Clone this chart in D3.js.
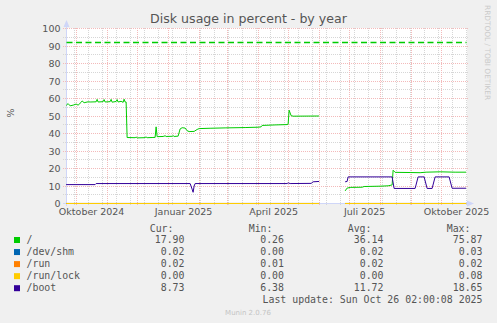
<!DOCTYPE html>
<html>
<head>
<meta charset="utf-8">
<script src="https://cdn.jsdelivr.net/npm/d3@7"></script>
<style>
body { margin: 0; background: #f0f0f0; }
svg { display: block; }
</style>
</head>
<body>
<div id="chart"></div>
<script>
// "/" filesystem
const rootDates = ["2024-09-21","2024-09-23","2024-09-25","2024-09-28","2024-10-01","2024-10-03","2024-10-06","2024-10-07","2024-10-09","2024-10-13","2024-10-15","2024-10-21","2024-10-22","2024-10-23","2024-10-28","2024-10-29","2024-10-30","2024-11-04","2024-11-05","2024-11-06","2024-11-10","2024-11-11","2024-11-12","2024-11-15","2024-11-17","2024-11-18","2024-11-19","2024-11-20","2024-11-21","2024-11-29","2024-11-30","2024-12-01","2024-12-08","2024-12-10","2024-12-11","2024-12-16","2024-12-19","2024-12-20","2024-12-21","2024-12-27","2024-12-29","2024-12-30","2025-01-05","2025-01-06","2025-01-07","2025-01-11","2025-01-13","2025-01-15","2025-01-18","2025-01-20","2025-01-22","2025-01-27","2025-01-30","2025-02-01","2025-02-12","2025-02-27","2025-03-19","2025-04-01","2025-04-04","2025-04-05","2025-04-18","2025-04-30","2025-05-01","2025-05-02","2025-05-04","2025-05-06","2025-06-01","2025-06-10","2025-06-27","2025-06-29","2025-07-02","2025-07-14","2025-07-16","2025-08-01","2025-08-09","2025-08-13","2025-08-14","2025-08-16","2025-08-31","2025-09-10","2025-09-16","2025-09-30","2025-10-15","2025-10-26"];
const rootValues = [56.0,57.1,55.8,56.2,56.8,56.2,57.8,58.6,57.6,58.1,58.0,58.1,59.5,58.0,58.2,59.4,58.0,58.2,59.5,57.9,58.3,59.4,58.0,58.4,57.8,59.6,58.0,58.0,37.7,37.6,38.0,37.5,37.6,38.0,37.6,37.7,37.8,43.8,38.2,38.3,38.7,38.3,38.4,38.8,38.3,38.5,42.6,43.3,43.1,41.6,41.1,41.2,42.3,42.8,43.0,43.2,43.4,43.6,43.8,44.6,44.9,45.1,45.3,53.3,50.2,49.9,50.0,null,7.2,8.8,9.2,9.3,9.7,9.9,10.1,10.6,19.0,17.8,17.7,17.6,17.9,18.1,17.9,17.9];

// "/boot"
const bootDates = ["2024-09-21","2024-10-20","2024-10-21","2025-01-23","2025-01-25","2025-01-26","2025-01-27","2025-01-28","2025-04-30","2025-05-01","2025-05-03","2025-05-24","2025-05-26","2025-06-01","2025-06-10","2025-06-27","2025-06-29","2025-06-30","2025-08-13","2025-08-15","2025-09-05","2025-09-08","2025-09-14","2025-09-17","2025-09-22","2025-09-25","2025-10-09","2025-10-12","2025-10-26"];
const bootValues = [10.8,10.8,11.4,11.4,8.2,6.4,10.0,11.4,11.4,11.8,11.4,11.5,12.4,12.6,null,12.4,12.6,15.2,15.2,8.6,8.6,15.2,15.2,8.6,8.6,15.2,15.2,8.7,8.73];

// the small ones, all near zero
const flatDates = ["2024-09-21","2025-06-01","2025-06-10","2025-06-27","2025-10-26"];
const shmValues = [0.02,0.02,null,0.02,0.02];
const runValues = [0.02,0.02,null,0.02,0.02];
const lockValues = [0.00,0.00,null,0.00,0.00];

const warningLevel = 92;

const legendNames = ["/", "/dev/shm", "/run", "/run/lock", "/boot"];
const legendColors = ["#00CC00", "#0066B3", "#FF8000", "#FFCC00", "#330099"];
const curValues = ["17.90", "0.02", "0.02", "0.00", "8.73"];
const minValues = ["0.26", "0.00", "0.01", "0.00", "6.38"];
const avgValues = ["36.14", "0.02", "0.02", "0.00", "11.72"];
const maxValues = ["75.87", "0.03", "0.02", "0.08", "18.65"];

const yTicks = [0, 10, 20, 30, 40, 50, 60, 70, 80, 90, 100];
const xLabelDates = ["2024-10-16", "2025-01-16", "2025-04-16", "2025-07-16", "2025-10-16"];
const xLabels = ["Oktober 2024", "Januar 2025", "April 2025", "Juli 2025", "Oktober 2025"];

function renderDiskChart () {
    const wSvg = 497;
    const hSvg = 323;
    const sans = "DejaVu Sans";
    const mono = "DejaVu Sans Mono";
    const parseDay = d3.timeParse("%Y-%m-%d");

    const start = new Date(2024, 8, 21, 2, 0);
    const end = new Date(2025, 9, 26, 2, 0);
    const xScale = d3.scaleTime([start, end], [66.2, 466.2]);
    const yScale = d3.scaleLinear([0, 100], [203.5, 28.5]);

    let svg = d3.select("#chart")
        .append("svg")
        .attr("width", wSvg)
        .attr("height", hSvg)
        .style("background-color", "#f0f0f0");

    svg.append("rect")
        .attr("x", 66)
        .attr("y", 28)
        .attr("width", 401)
        .attr("height", 176)
        .attr("fill", "white");

    // grid
    const minorColor = "#d6d6d6";
    const majorColor = "#f3baba";
    let grid = svg.append("g").attr("shape-rendering", "crispEdges");
    let minorY = d3.range(5, 100, 10);
    grid.selectAll(".minorY")
        .data(minorY)
        .enter()
        .append("line")
        .attr("x1", 63).attr("x2", 469)
        .attr("y1", d => yScale(d)).attr("y2", d => yScale(d))
        .attr("stroke", minorColor)
        .attr("stroke-dasharray", "1,1");

    let minorX = [];
    for (let d = d3.timeDay.offset(parseDay("2025-02-16"), -14 * 12); d <= end; d = d3.timeDay.offset(d, 14)) {
        if (d >= start) minorX.push(d);
    }
    grid.selectAll(".minorX")
        .data(minorX)
        .enter()
        .append("line")
        .attr("x1", d => xScale(d)).attr("x2", d => xScale(d))
        .attr("y1", 28).attr("y2", 206)
        .attr("stroke", minorColor)
        .attr("stroke-dasharray", "1,1");

    grid.selectAll(".majorY")
        .data(yTicks.filter(t => t > 0))
        .enter()
        .append("line")
        .attr("x1", 63).attr("x2", 469)
        .attr("y1", d => yScale(d)).attr("y2", d => yScale(d))
        .attr("stroke", majorColor)
        .attr("stroke-dasharray", "1,1");

    grid.selectAll(".majorX")
        .data(d3.timeMonth.range(start, end))
        .enter()
        .append("line")
        .attr("x1", d => xScale(d)).attr("x2", d => xScale(d))
        .attr("y1", 28).attr("y2", 206)
        .attr("stroke", majorColor)
        .attr("stroke-dasharray", "1,1");

    // axis lines + arrows
    const axisColor = "#CFD6F8";
    svg.append("line")
        .attr("x1", 66.5).attr("x2", 66.5)
        .attr("y1", 206).attr("y2", 24)
        .attr("stroke", axisColor);
    svg.append("line")
        .attr("x1", 63).attr("x2", 470)
        .attr("y1", 203.5).attr("y2", 203.5)
        .attr("stroke", axisColor);
    svg.append("path")
        .attr("d", "M66.5,20 L63.5,27 L69.5,27 Z")
        .attr("fill", axisColor);
    svg.append("path")
        .attr("d", "M474,203.5 L467,200.5 L467,206.5 Z")
        .attr("fill", axisColor);

    // y axis labels
    let yAxis = d3.axisLeft(yScale).tickValues(yTicks).tickSize(0).tickPadding(5.5);
    svg.append("g")
        .attr("transform", "translate(66, 0)")
        .call(yAxis)
        .selectAll("text")
        .attr("fill", "#555")
        .style("font-family", sans)
        .style("font-size", "9.5px");

    // x axis labels
    let labelDates = xLabelDates.map(parseDay);
    let xAxis = d3.axisBottom(xScale)
        .tickValues(labelDates)
        .tickFormat((d, i) => xLabels[i])
        .tickSize(0)
        .tickPadding(4.5);
    svg.append("g")
        .attr("transform", "translate(0, 203.5)")
        .call(xAxis)
        .selectAll("text")
        .attr("fill", "#555")
        .style("font-family", sans)
        .style("font-size", "9.5px");

    svg.selectAll(".domain").remove();
    svg.selectAll(".tick line").remove();

    // warning line
    svg.append("line")
        .attr("x1", 66.5).attr("x2", 466.5)
        .attr("y1", Math.round(yScale(warningLevel)) + 0.5)
        .attr("y2", Math.round(yScale(warningLevel)) + 0.5)
        .attr("stroke", "#00CC00")
        .attr("stroke-width", 1.3)
        .attr("stroke-dasharray", "6,3.5");

    // series
    let line = d3.line()
        .defined(d => d.v != null)
        .x(d => xScale(d.t))
        .y(d => yScale(d.v));

    let series = [
        { dates: rootDates, values: rootValues, color: legendColors[0] },
        { dates: flatDates, values: shmValues, color: legendColors[1] },
        { dates: flatDates, values: runValues, color: legendColors[2] },
        { dates: flatDates, values: lockValues, color: legendColors[3] },
        { dates: bootDates, values: bootValues, color: legendColors[4] }
    ];
    for (let s of series) {
        let pts = s.dates.map((d, i) => ({ t: parseDay(d), v: s.values[i] }));
        svg.append("path")
            .attr("d", line(pts))
            .attr("fill", "none")
            .attr("stroke", s.color)
            .attr("stroke-width", 1);
    }

    // titles
    svg.append("text")
        .attr("x", 248.5)
        .attr("y", 23)
        .attr("text-anchor", "middle")
        .attr("fill", "#555")
        .style("font-family", sans)
        .style("font-size", "12.6px")
        .text("Disk usage in percent - by year");

    svg.append("text")
        .attr("transform", "translate(13.5, 113) rotate(-90)")
        .attr("text-anchor", "middle")
        .attr("fill", "#555")
        .style("font-family", sans)
        .style("font-size", "9.5px")
        .text("%");

    svg.append("text")
        .attr("transform", "translate(485.3, 5) rotate(90)")
        .attr("fill", "#cacaca")
        .style("font-family", sans)
        .style("font-size", "7.4px")
        .text("RRDTOOL / TOBI OETIKER");

    // legend
    let legend = svg.append("g")
        .style("font-family", mono)
        .style("font-size", "9.9px")
        .attr("fill", "#555");

    let headers = ["Cur:", "Min:", "Avg:", "Max:"];
    let headerX = [149.7, 248.7, 347.7, 446.7];
    let colEnds = [184.5, 284, 383.5, 482.5];
    let columns = [curValues, minValues, avgValues, maxValues];

    headers.forEach((h, i) => {
        legend.append("text").attr("x", headerX[i]).attr("y", 231.5).text(h);
    });

    legendNames.forEach((name, i) => {
        let yBase = 243 + i * 12.05;
        legend.append("rect")
            .attr("x", 14).attr("y", yBase - 6)
            .attr("width", 6).attr("height", 6)
            .attr("fill", legendColors[i]);
        legend.append("text").attr("x", 26.5).attr("y", yBase).text(name);
        columns.forEach((col, j) => {
            legend.append("text")
                .attr("x", colEnds[j])
                .attr("y", yBase)
                .attr("text-anchor", "end")
                .text(col[i]);
        });
    });

    legend.append("text")
        .attr("x", 482.5)
        .attr("y", 303.3)
        .attr("text-anchor", "end")
        .text("Last update: Sun Oct 26 02:00:08 2025");

    svg.append("text")
        .attr("x", 248)
        .attr("y", 315)
        .attr("text-anchor", "middle")
        .attr("fill", "#c4c4c4")
        .style("font-family", sans)
        .style("font-size", "7px")
        .text("Munin 2.0.76");
}

renderDiskChart();
</script>
</body>
</html>
